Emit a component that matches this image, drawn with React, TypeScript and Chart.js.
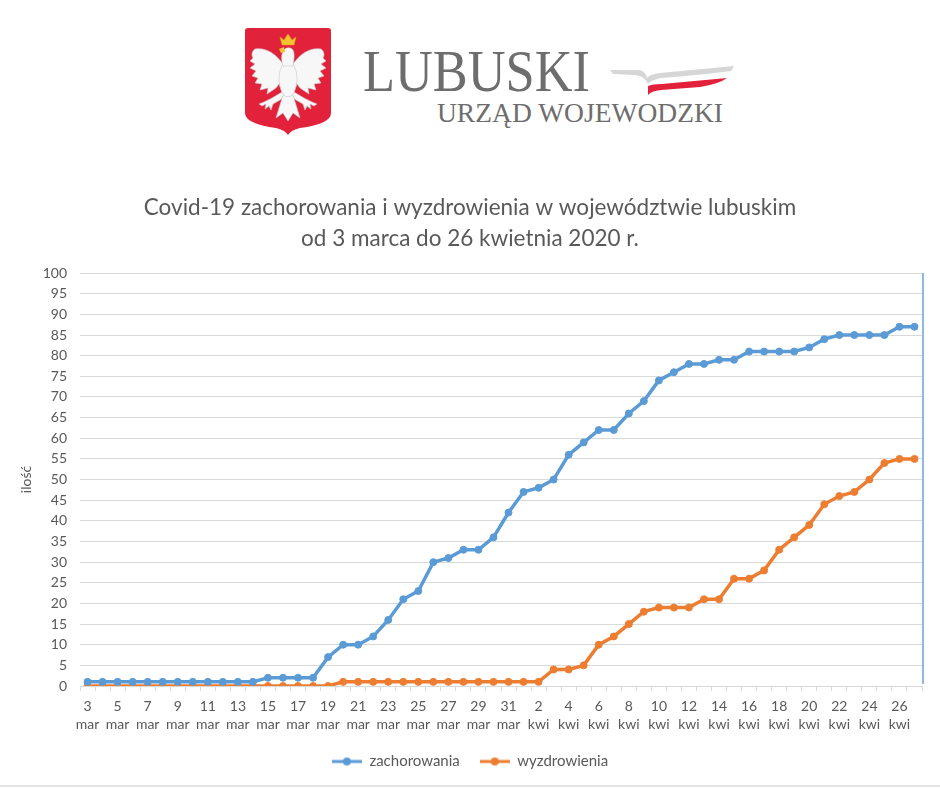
import React, { useEffect, useRef } from "react";
import { Chart, registerables } from "chart.js";

Chart.register(...registerables);

// ---- data ----
const dayNumbers = [
  3, 4, 5, 6, 7, 8, 9, 10, 11, 12, 13, 14, 15, 16, 17, 18, 19, 20, 21, 22, 23, 24, 25, 26, 27, 28, 29, 30, 31,
  1, 2, 3, 4, 5, 6, 7, 8, 9, 10, 11, 12, 13, 14, 15, 16, 17, 18, 19, 20, 21, 22, 23, 24, 25, 26, 27,
];
const monthNames = [
  "mar", "mar", "mar", "mar", "mar", "mar", "mar", "mar", "mar", "mar", "mar", "mar", "mar", "mar", "mar",
  "mar", "mar", "mar", "mar", "mar", "mar", "mar", "mar", "mar", "mar", "mar", "mar", "mar", "mar",
  "kwi", "kwi", "kwi", "kwi", "kwi", "kwi", "kwi", "kwi", "kwi", "kwi", "kwi", "kwi", "kwi", "kwi",
  "kwi", "kwi", "kwi", "kwi", "kwi", "kwi", "kwi", "kwi", "kwi", "kwi", "kwi", "kwi", "kwi",
];
const zachorowania = [
  1, 1, 1, 1, 1, 1, 1, 1, 1, 1, 1, 1, 2, 2, 2, 2, 7, 10, 10, 12, 16, 21, 23, 30, 31, 33, 33, 36, 42,
  47, 48, 50, 56, 59, 62, 62, 66, 69, 74, 76, 78, 78, 79, 79, 81, 81, 81, 81, 82, 84, 85, 85, 85, 85, 87, 87,
];
const wyzdrowienia = [
  0, 0, 0, 0, 0, 0, 0, 0, 0, 0, 0, 0, 0, 0, 0, 0, 0, 1, 1, 1, 1, 1, 1, 1, 1, 1, 1, 1, 1,
  1, 1, 4, 4, 5, 10, 12, 15, 18, 19, 19, 19, 21, 21, 26, 26, 28, 33, 36, 39, 44, 46, 47, 50, 54, 55, 55,
];
const seriesNames = ["zachorowania", "wyzdrowienia"];
const titleLines = [
  "Covid-19 zachorowania i wyzdrowienia w województwie lubuskim",
  "od 3 marca do 26 kwietnia 2020 r.",
];
const yAxisTitle = "ilość";

const BLUE = "#5b9bd5";
const ORANGE = "#ed7d31";
const TEXT = "#595959";
const GRID = "#d9d9d9";
const FONT = "Lato, 'Open Sans', sans-serif";

function makeMarker(color: string): HTMLCanvasElement {
  const c = document.createElement("canvas");
  c.width = 30;
  c.height = 10;
  const g = c.getContext("2d")!;
  g.strokeStyle = color;
  g.lineWidth = 3;
  g.beginPath();
  g.moveTo(0, 5);
  g.lineTo(30, 5);
  g.stroke();
  g.fillStyle = color;
  g.beginPath();
  g.arc(15, 5, 4, 0, Math.PI * 2);
  g.fill();
  return c;
}

const rightLinePlugin = {
  id: "rightLine",
  afterDraw(chart: any) {
    const { ctx, chartArea } = chart;
    ctx.save();
    ctx.strokeStyle = "#8fb9e2";
    ctx.lineWidth = 2;
    ctx.beginPath();
    ctx.moveTo(chartArea.right + 1, chartArea.top);
    ctx.lineTo(chartArea.right + 1, chartArea.bottom - 2);
    ctx.stroke();
    ctx.restore();
  },
};

function Logo() {
  const wing =
    "M283,64 C276,54 266,47 255,49 C252,51 251,55 253,58 L250,61 L255,64 L250,68 L256,71 L252,76 L258,78 L255,83 L262,84 L260,90 L268,88 L267,94 L276,88 L282,80 Z";
  const leg =
    "M282,92 L272,98 L264,102 L259,104 L262,106 L266,104 L265,109 L269,106 L271,110 L273,104 L280,100 L285,96 Z";
  return (
    <svg
      width={940}
      height={150}
      style={{ position: "absolute", left: 0, top: 0 }}
      xmlns="http://www.w3.org/2000/svg"
    >
      <path
        d="M245,31 Q245,28 248,28 L328,28 Q331,28 331,31 L331,113 Q331,124 300,128 Q291,130 288,135 Q285,130 276,128 Q245,124 245,113 Z"
        fill="#e2213a"
      />
      <g fill="#f7f7f7" stroke="#c9c9c9" strokeWidth={0.6}>
        <path d={wing} />
        <g transform="translate(576,0) scale(-1,1)">
          <path d={wing} />
          <path d={leg} />
        </g>
        <path d={leg} />
        <path d="M283,95 L276,118 L283,113 L288,121 L293,113 L300,118 L293,95 Z" />
        <ellipse cx={288} cy={79} rx={9} ry={18} />
        <path d="M283,66 C281,60 281,54 284,50 C286,47 291,47 293,50 C295,54 294,60 293,66 Z" />
      </g>
      <path d="M279,49 L284,47 L285,52 L281,53 Z" fill="#f2c230" />
      <path
        d="M282,45 L280,37 L284,40 L288,34 L292,40 L296,37 L294,45 Z"
        fill="#f2c230"
        stroke="#d9a520"
        strokeWidth={0.5}
      />
      <text
        x={363}
        y={91}
        fontFamily="'Liberation Serif', 'DejaVu Serif', serif"
        fontSize={60}
        fill="#6d6d6d"
        textLength={227}
        lengthAdjust="spacingAndGlyphs"
      >
        LUBUSKI
      </text>
      <text
        x={437}
        y={122}
        fontFamily="'Liberation Serif', 'DejaVu Serif', serif"
        fontSize={28}
        fill="#6d6d6d"
        textLength={286}
        lengthAdjust="spacingAndGlyphs"
      >
        URZĄD WOJEWODZKI
      </text>
      <path
        d="M610,70 L640,70 Q646,72 647,78 Q650,74 660,73 L734,66 L731,71 Q700,75 661,78 Q651,80 648,84 Q645,76 635,75 L613,74 Z"
        fill="#d6d6d6"
      />
      <path
        d="M648,86 Q652,84 662,84 L727,78 Q719,84 700,87 L661,90 Q651,91 648,95 Z"
        fill="#e2213a"
      />
    </svg>
  );
}

export default function App() {
  const canvasRef = useRef<HTMLCanvasElement | null>(null);

  useEffect(() => {
    document.body.style.margin = "0";
    const canvas = canvasRef.current;
    if (!canvas) return;
    const labels = dayNumbers.map((d, i) => [String(d), monthNames[i]]);
    const markers = [makeMarker(BLUE), makeMarker(ORANGE)];

    const chart = new Chart(canvas, {
      type: "line",
      data: {
        labels,
        datasets: [
          {
            label: seriesNames[0],
            data: zachorowania,
            borderColor: BLUE,
            backgroundColor: BLUE,
            borderWidth: 3.5,
            pointRadius: 3.5,
            pointBorderWidth: 1,
            pointBackgroundColor: BLUE,
            pointBorderColor: BLUE,
            tension: 0,
          },
          {
            label: seriesNames[1],
            data: wyzdrowienia,
            borderColor: ORANGE,
            backgroundColor: ORANGE,
            borderWidth: 3.5,
            pointRadius: 3.5,
            pointBorderWidth: 1,
            pointBackgroundColor: ORANGE,
            pointBorderColor: ORANGE,
            tension: 0,
          },
        ],
      },
      options: {
        responsive: false,
        animation: false,
        layout: { padding: { left: 18, right: 18, top: 0, bottom: 9 } },
        plugins: {
          title: {
            display: true,
            text: titleLines,
            color: TEXT,
            font: { family: FONT, size: 22.5, weight: "normal", lineHeight: 1.38 },
            padding: { top: 12, bottom: 19 },
          },
          legend: {
            position: "bottom",
            labels: {
              usePointStyle: true,
              pointStyleWidth: 30,
              padding: 20,
              color: TEXT,
              font: { family: FONT, size: 15 },
              generateLabels: (ch: any) => {
                const items = (Chart.defaults.plugins.legend.labels as any).generateLabels(ch);
                items.forEach((it: any, i: number) => {
                  it.pointStyle = markers[i];
                });
                return items;
              },
            },
          },
          tooltip: { enabled: false },
        },
        scales: {
          x: {
            type: "category",
            offset: true,
            grid: {
              display: true,
              drawOnChartArea: false,
              drawTicks: true,
              tickLength: 5,
              color: GRID,
              offset: true,
            },
            border: { display: true, color: GRID, width: 1 },
            ticks: {
              autoSkip: false,
              maxRotation: 0,
              minRotation: 0,
              padding: 6,
              color: TEXT,
              font: { family: FONT, size: 14, lineHeight: 1.3 },
              callback: function (this: any, value: any, index: number) {
                return index % 2 === 0 ? this.getLabelForValue(value) : "";
              },
            },
            afterFit: (scale: any) => {
              scale.height = 48;
            },
          },
          y: {
            min: 0,
            max: 100,
            grid: { color: GRID, drawTicks: false, lineWidth: 1 },
            border: { display: false },
            ticks: {
              stepSize: 5,
              padding: 13,
              color: TEXT,
              font: { family: FONT, size: 14 },
            },
            title: {
              display: true,
              text: yAxisTitle,
              color: TEXT,
              font: { family: FONT, size: 14 },
              padding: { top: 0, bottom: 0 },
            },
            afterFit: (scale: any) => {
              scale.width = 62;
            },
          },
        },
      },
      plugins: [rightLinePlugin],
    } as any);

    return () => {
      chart.destroy();
    };
  }, []);

  return (
    <div
      style={{
        position: "relative",
        width: 940,
        height: 788,
        background: "#ffffff",
        overflow: "hidden",
      }}
    >
      <Logo />
      <canvas
        ref={canvasRef}
        width={940}
        height={608}
        style={{ position: "absolute", left: 0, top: 180, width: 940, height: 608 }}
      />
      <div
        style={{
          position: "absolute",
          left: 0,
          top: 785,
          width: 940,
          height: 2,
          background: "#e3e3e3",
        }}
      />
    </div>
  );
}
